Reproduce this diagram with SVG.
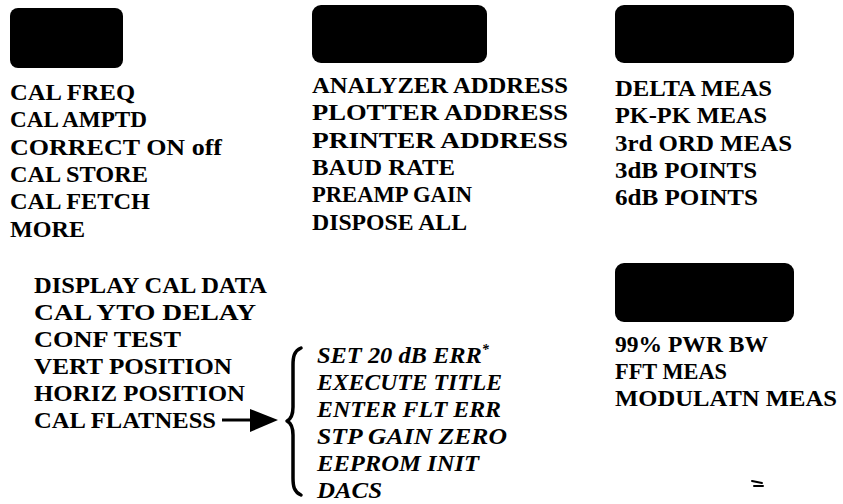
<svg xmlns="http://www.w3.org/2000/svg" width="843" height="504" viewBox="0 0 843 504">
<style>
.bg{fill:#ffffff}
.key{fill:#000000}
.t{font-family:"Liberation Serif","Times New Roman",serif;font-weight:bold;font-size:24px;fill:#000000}
.it{font-family:"Liberation Serif","Times New Roman",serif;font-weight:bold;font-style:italic;font-size:24px;fill:#000000}
.br{fill:none;stroke:#000000;stroke-width:3.5;stroke-linecap:round;stroke-linejoin:round}
.ln{fill:none;stroke:#000000;stroke-width:3}
.mk{fill:none;stroke:#000000;stroke-width:2;stroke-linecap:round}
</style>
<rect class="bg" x="0" y="0" width="843" height="504"/>

<g id="cal-menu">
<rect class="key" x="10" y="8" width="113" height="60" rx="8"/>
<text class="t" x="10" y="100" textLength="125" lengthAdjust="spacingAndGlyphs">CAL FREQ</text>
<text class="t" x="10" y="127.3" textLength="137" lengthAdjust="spacingAndGlyphs">CAL AMPTD</text>
<text class="t" x="10" y="154.6" textLength="212" lengthAdjust="spacingAndGlyphs">CORRECT ON off</text>
<text class="t" x="10" y="181.9" textLength="138" lengthAdjust="spacingAndGlyphs">CAL STORE</text>
<text class="t" x="10" y="209.2" textLength="140" lengthAdjust="spacingAndGlyphs">CAL FETCH</text>
<text class="t" x="10" y="236.5" textLength="75" lengthAdjust="spacingAndGlyphs">MORE</text>
</g>

<g id="config-menu">
<rect class="key" x="312" y="5" width="175" height="58" rx="9"/>
<text class="t" x="312" y="93" textLength="256" lengthAdjust="spacingAndGlyphs">ANALYZER ADDRESS</text>
<text class="t" x="312" y="120.3" textLength="256" lengthAdjust="spacingAndGlyphs">PLOTTER ADDRESS</text>
<text class="t" x="312" y="147.6" textLength="256" lengthAdjust="spacingAndGlyphs">PRINTER ADDRESS</text>
<text class="t" x="312" y="174.9" textLength="143" lengthAdjust="spacingAndGlyphs">BAUD RATE</text>
<text class="t" x="312" y="202.2" textLength="160" lengthAdjust="spacingAndGlyphs">PREAMP GAIN</text>
<text class="t" x="312" y="229.5" textLength="155" lengthAdjust="spacingAndGlyphs">DISPOSE ALL</text>
</g>

<g id="meas-menu">
<rect class="key" x="615" y="5" width="179" height="58" rx="9"/>
<text class="t" x="615" y="96" textLength="157" lengthAdjust="spacingAndGlyphs">DELTA MEAS</text>
<text class="t" x="615" y="123.3" textLength="152" lengthAdjust="spacingAndGlyphs">PK-PK MEAS</text>
<text class="t" x="615" y="150.6" textLength="177" lengthAdjust="spacingAndGlyphs">3rd ORD MEAS</text>
<text class="t" x="615" y="177.9" textLength="142" lengthAdjust="spacingAndGlyphs">3dB POINTS</text>
<text class="t" x="615" y="205.2" textLength="143" lengthAdjust="spacingAndGlyphs">6dB POINTS</text>
</g>

<g id="more-menu">
<text class="t" x="34" y="293" textLength="233" lengthAdjust="spacingAndGlyphs">DISPLAY CAL DATA</text>
<text class="t" x="34" y="320" textLength="222" lengthAdjust="spacingAndGlyphs">CAL YTO DELAY</text>
<text class="t" x="34" y="347" textLength="147" lengthAdjust="spacingAndGlyphs">CONF TEST</text>
<text class="t" x="34" y="374" textLength="198" lengthAdjust="spacingAndGlyphs">VERT POSITION</text>
<text class="t" x="34" y="401" textLength="211" lengthAdjust="spacingAndGlyphs">HORIZ POSITION</text>
<text class="t" x="34" y="428" textLength="182" lengthAdjust="spacingAndGlyphs">CAL FLATNESS</text>
</g>

<g id="flatness-menu">
<text class="it" x="317" y="363" textLength="172" lengthAdjust="spacingAndGlyphs">SET 20 dB ERR<tspan font-size="14" dy="-9">*</tspan></text>
<text class="it" x="317" y="390" textLength="185" lengthAdjust="spacingAndGlyphs">EXECUTE TITLE</text>
<text class="it" x="317" y="417" textLength="184" lengthAdjust="spacingAndGlyphs">ENTER FLT ERR</text>
<text class="it" x="317" y="444" textLength="190" lengthAdjust="spacingAndGlyphs">STP GAIN ZERO</text>
<text class="it" x="317" y="471" textLength="162" lengthAdjust="spacingAndGlyphs">EEPROM INIT</text>
<text class="it" x="317" y="498" textLength="65" lengthAdjust="spacingAndGlyphs">DACS</text>
</g>

<g id="meas2-menu">
<rect class="key" x="615" y="263" width="179" height="59" rx="9"/>
<text class="t" x="615" y="352" textLength="153" lengthAdjust="spacingAndGlyphs">99% PWR BW</text>
<text class="t" x="615" y="379" textLength="112" lengthAdjust="spacingAndGlyphs">FFT MEAS</text>
<text class="t" x="615" y="406" textLength="222" lengthAdjust="spacingAndGlyphs">MODULATN MEAS</text>
</g>

<g id="connectors">
<line class="ln" x1="222" y1="420" x2="252" y2="420"/>
<path d="M250,409 L278,420 L250,432 Z" fill="#000000"/>
<path class="br" d="M301,348 C294,351 293,357 293,365 L293,407 C293,414 291,419 287,421 C291,423 293,428 293,435 L293,478 C293,486 294,492 301,495"/>
</g>

<path class="mk" d="M752,481 L762,483 M754,486 L763,486"/>
</svg>
